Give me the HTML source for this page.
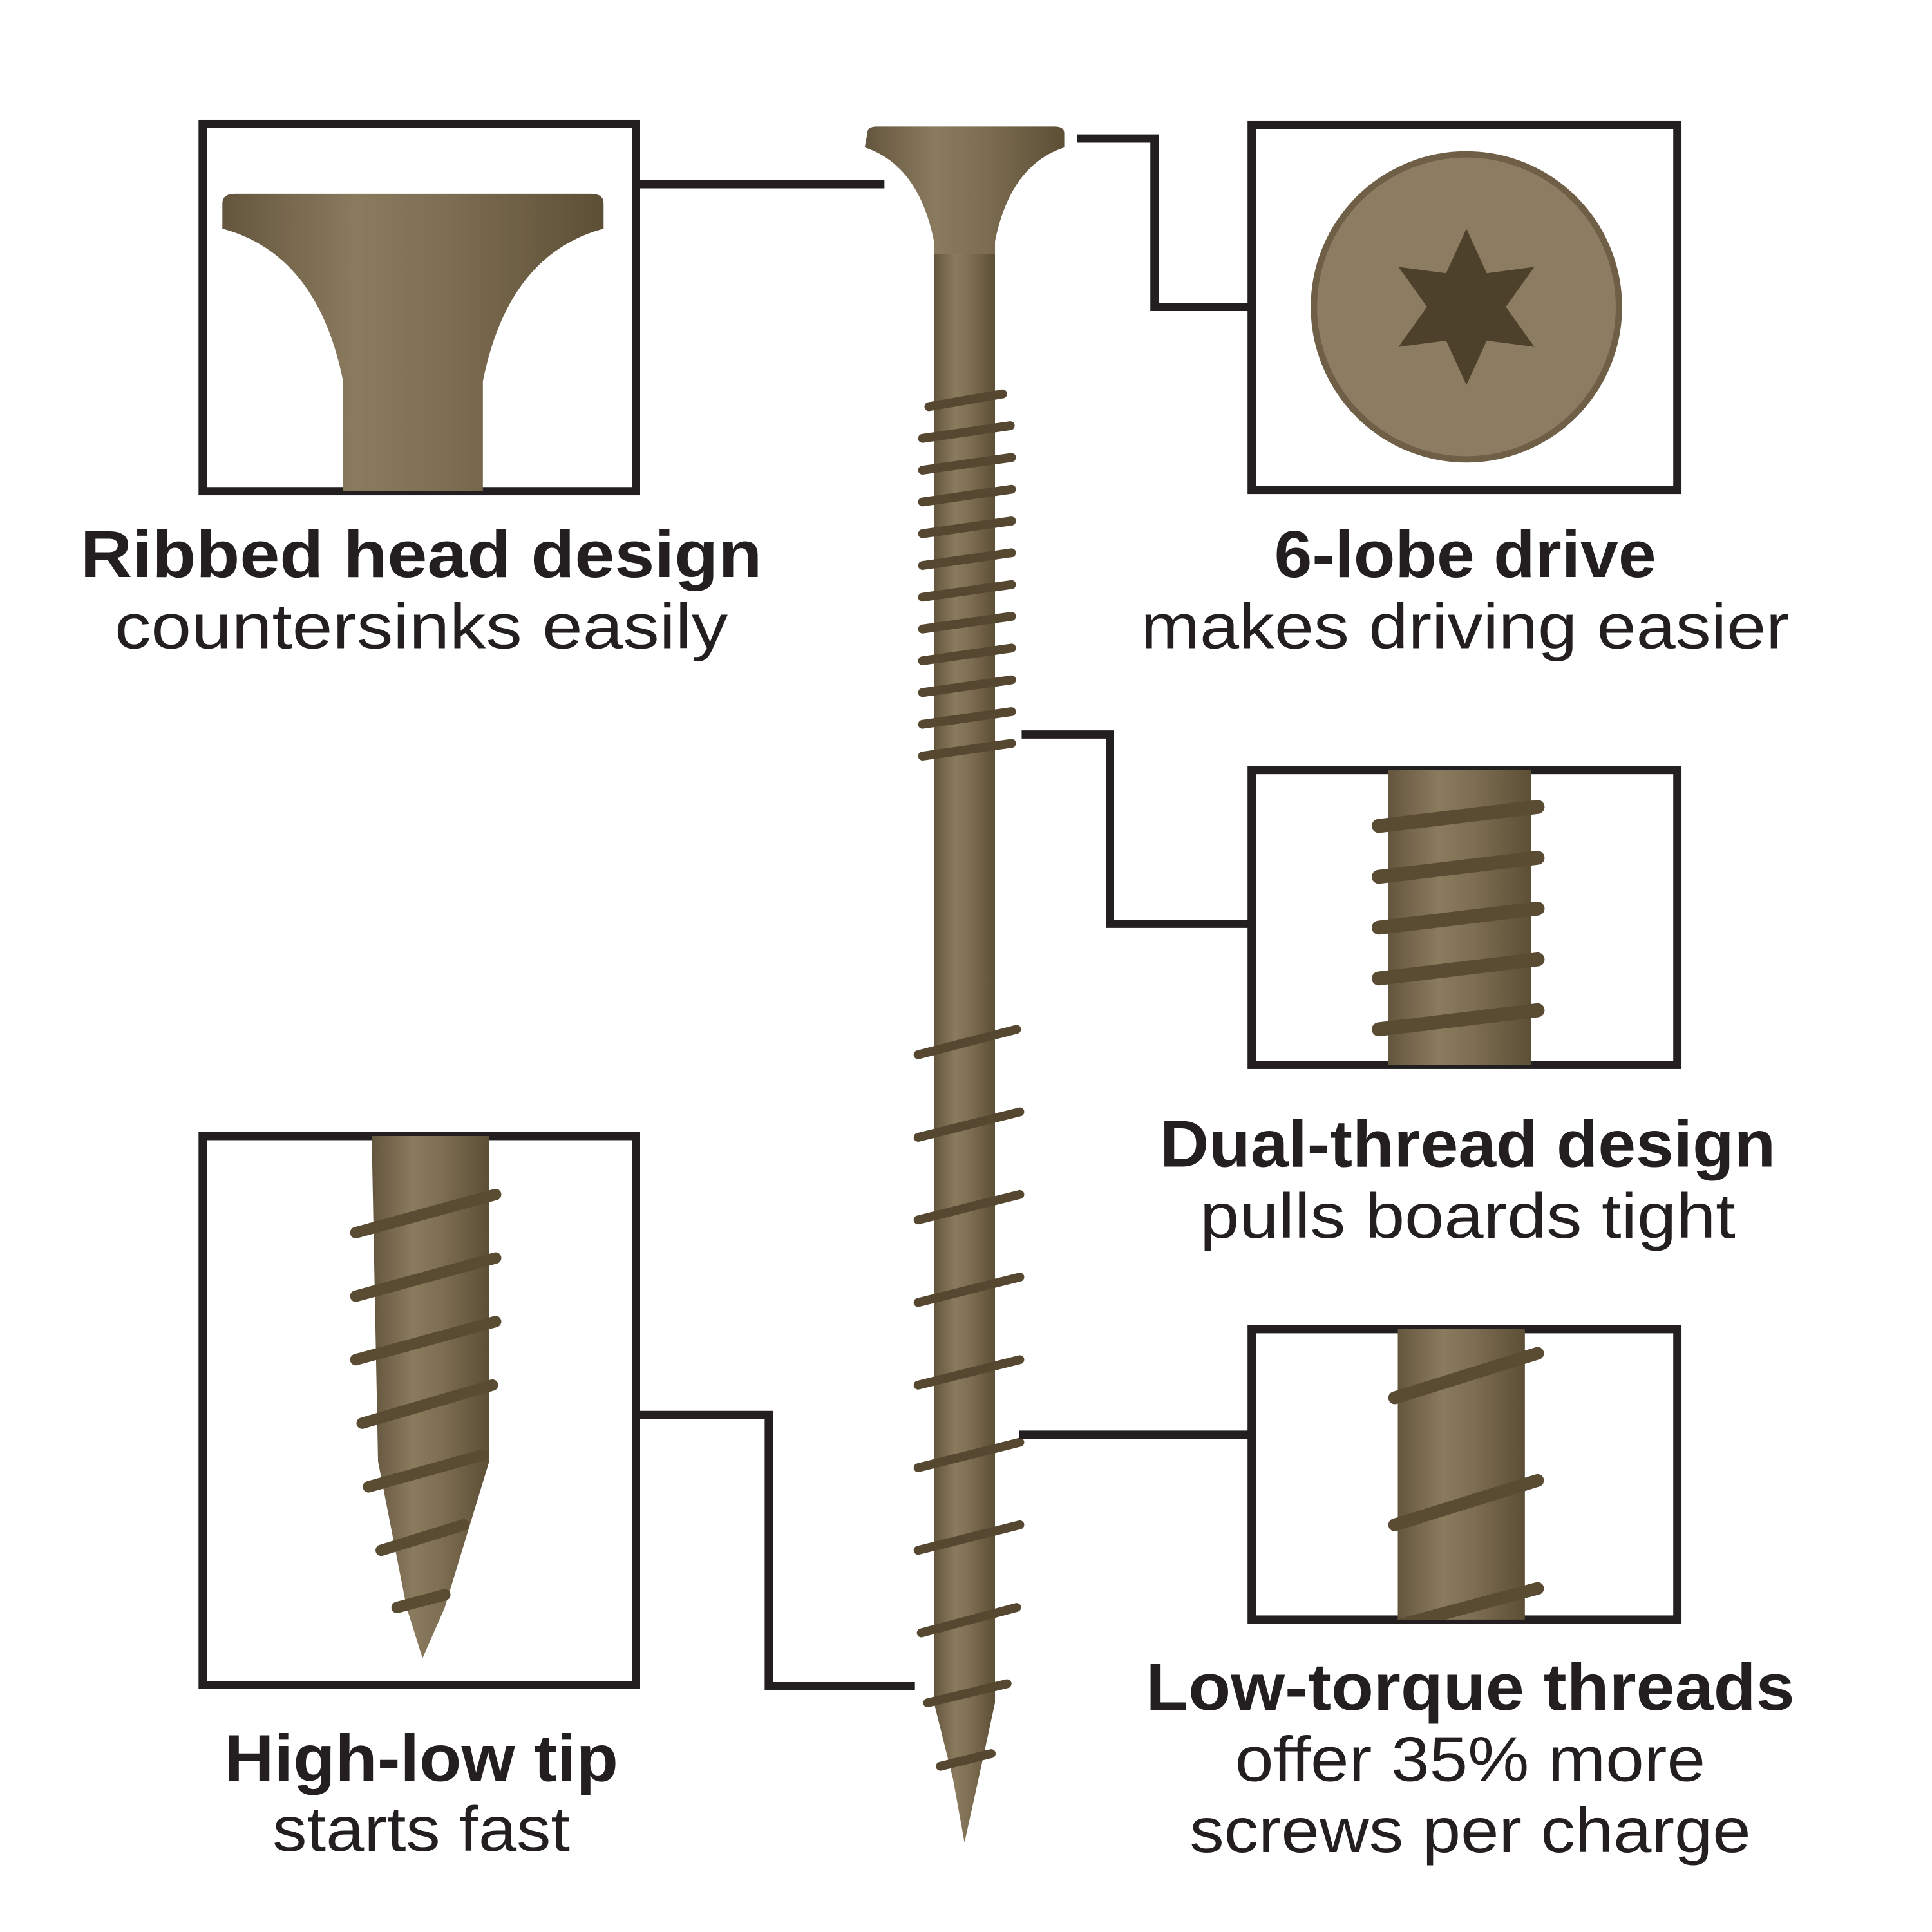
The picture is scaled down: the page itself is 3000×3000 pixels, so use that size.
<!DOCTYPE html>
<html><head><meta charset="utf-8"><style>
html,body{margin:0;padding:0;background:#fff}
svg{display:block}
</style></head><body>
<svg width="3000" height="3000" viewBox="0 0 3000 3000" xmlns="http://www.w3.org/2000/svg">
<defs>
<linearGradient id="sh" x1="0" x2="1" y1="0" y2="0">
<stop offset="0" stop-color="#64563e"/><stop offset="0.35" stop-color="#8a7a5e"/><stop offset="0.6" stop-color="#7d6d52"/><stop offset="1" stop-color="#5c4f35"/>
</linearGradient>
<clipPath id="c1"><rect x="319" y="195" width="682" height="578"/></clipPath>
<clipPath id="c3"><rect x="1970" y="1212" width="670" height="464"/></clipPath>
<clipPath id="c4"><rect x="1970" y="2092" width="670" height="457"/></clipPath>
<clipPath id="c5"><rect x="319" y="1788" width="682" height="864"/></clipPath>
</defs>
<g transform="scale(0.9866)">
<!-- main screw -->
<g>
<rect x="1470" y="380" width="96" height="2300" fill="url(#sh)"/>
<path d="M1365,210 Q1365,199 1380,199 L1660,199 Q1675,199 1675,210 L1675,232 Q1590,260 1566,380 L1566,400 L1470,400 L1470,380 Q1446,260 1361,232 Z" fill="url(#sh)"/>
<path d="M1470,2680 L1566,2680 L1540,2800 L1518,2900 L1500,2800 Z" fill="url(#sh)"/>
<g stroke="#564830" stroke-width="14" fill="none" stroke-linecap="round">
<path d="M1462,640 L1578,620"/><path d="M1452,690 L1590,670"/><path d="M1452,740 L1592,720"/><path d="M1452,790 L1592,770"/><path d="M1452,840 L1592,820"/><path d="M1452,890 L1592,870"/><path d="M1452,940 L1592,920"/><path d="M1452,990 L1592,970"/><path d="M1452,1040 L1592,1020"/><path d="M1452,1090 L1592,1070"/><path d="M1452,1140 L1592,1120"/><path d="M1452,1190 L1592,1170"/>
<path d="M1445,1660 L1600,1620"/><path d="M1445,1790 L1605,1750"/><path d="M1445,1920 L1605,1880"/><path d="M1445,2050 L1605,2010"/><path d="M1445,2180 L1605,2140"/><path d="M1445,2310 L1605,2270"/><path d="M1445,2440 L1605,2400"/><path d="M1450,2570 L1600,2530"/><path d="M1460,2680 L1585,2650"/><path d="M1480,2780 L1560,2760"/>
</g>
</g>

<!-- box 1 -->
<rect x="319" y="195" width="682" height="578" fill="#fff" stroke="#231f20" stroke-width="13"/>
<g clip-path="url(#c1)">
<path d="M350,320 Q350,305 370,305 L930,305 Q950,305 950,320 L950,360 Q800,400 760,600 L760,779 L540,779 L540,600 Q500,400 350,360 Z" fill="url(#sh)"/>
</g>
<!-- box 2 -->
<rect x="1970" y="197" width="670" height="574" fill="#fff" stroke="#231f20" stroke-width="13"/>
<circle cx="2308" cy="483" r="240" fill="#8c7c62"/>
<circle cx="2308" cy="483" r="240" fill="none" stroke="#6e5f46" stroke-width="10"/>
<polygon points="2308,360 2340,430 2415,420 2370,483 2415,546 2340,536 2308,606 2276,536 2201,546 2246,483 2201,420 2276,430" fill="#4e412c"/>
<!-- box 3 -->
<rect x="1970" y="1212" width="670" height="464" fill="#fff" stroke="#231f20" stroke-width="13"/>
<g clip-path="url(#c3)">
<rect x="2185" y="1212" width="225" height="470" fill="url(#sh)"/>
<g stroke="#5a4c33" stroke-width="22" stroke-linecap="round">
<path d="M2170,1300 L2420,1270"/><path d="M2170,1380 L2420,1350"/><path d="M2170,1460 L2420,1430"/><path d="M2170,1540 L2420,1510"/><path d="M2170,1620 L2420,1590"/>
</g></g>
<!-- box 4 -->
<rect x="1970" y="2092" width="670" height="457" fill="#fff" stroke="#231f20" stroke-width="13"/>
<g clip-path="url(#c4)">
<rect x="2200" y="2092" width="200" height="460" fill="url(#sh)"/>
<g stroke="#5a4c33" stroke-width="20" stroke-linecap="round">
<path d="M2195,2200 L2420,2130"/><path d="M2195,2400 L2420,2330"/><path d="M2195,2560 L2420,2500"/>
</g></g>
<!-- box 5 -->
<rect x="319" y="1788" width="682" height="864" fill="#fff" stroke="#231f20" stroke-width="13"/>
<g clip-path="url(#c5)">
<path d="M585,1788 L770,1788 L770,2300 L700,2530 L665,2610 L640,2530 L595,2300 Z" fill="url(#sh)"/>
<g stroke="#5a4c33" stroke-width="18" stroke-linecap="round">
<path d="M560,1940 L780,1880"/><path d="M560,2040 L780,1980"/><path d="M560,2140 L780,2080"/><path d="M570,2240 L775,2180"/><path d="M580,2340 L760,2290"/><path d="M600,2440 L730,2400"/><path d="M625,2530 L700,2510"/>
</g></g>

<!-- connectors -->
<g stroke="#231f20" stroke-width="13" fill="none">
<path d="M1007,290 L1392,290"/>
<path d="M1695,218 L1817,218 L1817,483 L1964,483"/>
<path d="M1608,1156 L1747,1156 L1747,1454 L1964,1454"/>
<path d="M1604,2258 L1964,2258"/>
<path d="M1007,2227 L1210,2227 L1210,2654 L1440,2654"/>
</g>

<!-- text -->
<g font-family="Liberation Sans, sans-serif" fill="#231f20" text-anchor="middle">
<text x="663" y="908" font-size="104" font-weight="bold" textLength="1073" lengthAdjust="spacingAndGlyphs">Ribbed head design</text>
<text x="663" y="1020" font-size="100" textLength="965" lengthAdjust="spacingAndGlyphs">countersinks easily</text>
<text x="2306" y="908" font-size="104" font-weight="bold" textLength="601" lengthAdjust="spacingAndGlyphs">6-lobe drive</text>
<text x="2306" y="1020" font-size="100" textLength="1021" lengthAdjust="spacingAndGlyphs">makes driving easier</text>
<text x="2310" y="1836" font-size="104" font-weight="bold" textLength="969" lengthAdjust="spacingAndGlyphs">Dual-thread design</text>
<text x="2310" y="1948" font-size="100" textLength="843" lengthAdjust="spacingAndGlyphs">pulls boards tight</text>
<text x="2314" y="2691" font-size="104" font-weight="bold" textLength="1021" lengthAdjust="spacingAndGlyphs">Low-torque threads</text>
<text x="2314" y="2803" font-size="100" textLength="740" lengthAdjust="spacingAndGlyphs">offer 35% more</text>
<text x="2314" y="2915" font-size="100" textLength="883" lengthAdjust="spacingAndGlyphs">screws per charge</text>
<text x="663" y="2803" font-size="104" font-weight="bold" textLength="620" lengthAdjust="spacingAndGlyphs">High-low tip</text>
<text x="663" y="2913" font-size="100" textLength="468" lengthAdjust="spacingAndGlyphs">starts fast</text>
</g>
</g>
</svg>
</body></html>
